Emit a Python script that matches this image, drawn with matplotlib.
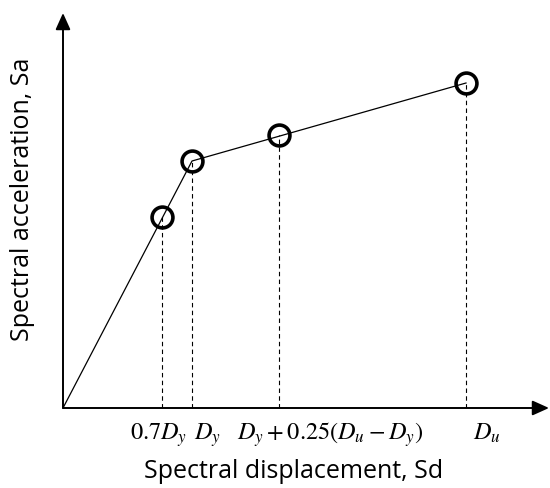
import matplotlib.pyplot as plt

# Capacity curve points (spectral displacement, spectral acceleration), arbitrary units
sd_points = [0.99, 1.29, 2.16, 4.03]
sa_points = [1.91, 2.47, 2.73, 3.25]

# Bilinear curve: origin -> yield -> ultimate
curve_sd = [0.0, 1.29, 4.03]
curve_sa = [0.0, 2.47, 3.25]

tick_labels = [r'$0.7D_y$', r'$D_y$', r'$D_y + 0.25(D_u - D_y)$', r'$D_u$']
tick_label_x = [0.67, 1.31, 1.74, 4.10]

plt.rcParams['mathtext.fontset'] = 'stix'

fig = plt.figure(figsize=(5.5, 4.88), dpi=100)
ax = fig.add_axes([63 / 550, 80 / 488, 486 / 550, 395 / 488])
ax.set_xlim(0, 4.86)
ax.set_ylim(0, 3.95)
ax.axis('off')

# Axes drawn as arrows
arrow = dict(arrowstyle='-|>,head_length=1.0,head_width=0.45', color='black',
             lw=1.4, shrinkA=0, shrinkB=0)
ax.annotate('', xy=(4.86, 0), xytext=(0, 0), xycoords='data', arrowprops=arrow,
            annotation_clip=False)
ax.annotate('', xy=(0, 3.95), xytext=(0, 0), xycoords='data', arrowprops=arrow,
            annotation_clip=False)

# Dashed drop lines from each point
for x, y in zip(sd_points, sa_points):
    ax.plot([x, x], [0, y], color='black', lw=0.8, ls=(0, (4, 3)))

ax.plot(curve_sd, curve_sa, color='black', lw=0.9)
ax.plot(sd_points, sa_points, 'o', ms=15, mfc='none', mec='black', mew=2.6)

for x, lab in zip(tick_label_x, tick_labels):
    ax.text(x, -0.32, lab, ha='left', va='baseline', fontsize=17.5, clip_on=False)

fig.text(294 / 550, 1 - 471 / 488, 'Spectral displacement, Sd', ha='center', va='center',
         fontsize=18, family='Open Sans')
fig.text(23 / 550, 1 - 199 / 488, 'Spectral acceleration, Sa', ha='center', va='center',
         rotation=90, fontsize=18, family='Open Sans')

fig.savefig('out.png', dpi=100)
